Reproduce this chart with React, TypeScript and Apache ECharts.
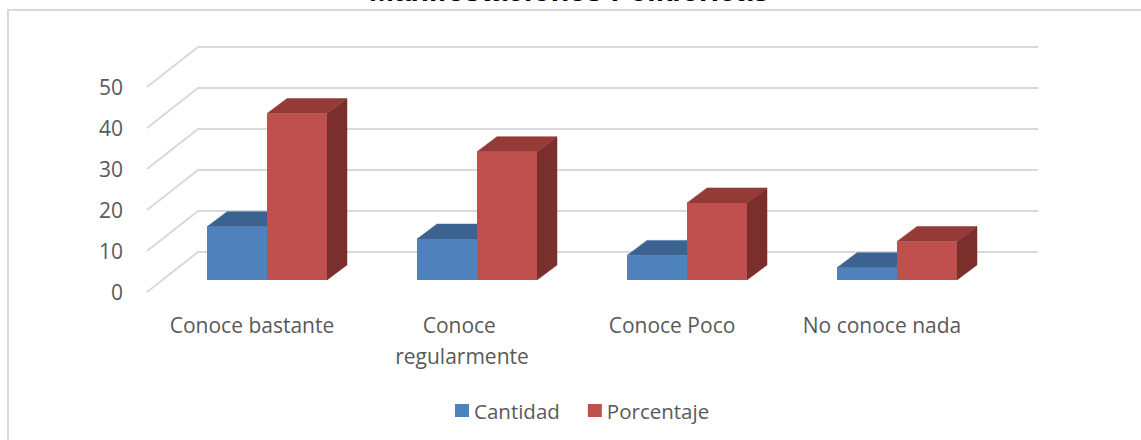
import React, { useEffect, useRef } from "react";
import * as echarts from "echarts";

const titleText = "Manifestaciones Folklóricas";
const categories = ["Conoce bastante", "Conoce regularmente", "Conoce Poco", "No conoce nada"];
const cantidad = [13, 10, 6, 3];
const porcentaje = [40.6, 31.3, 18.8, 9.4];
const yTicks = [0, 10, 20, 30, 40, 50];
const seriesNames = ["Cantidad", "Porcentaje"];

const WALL = { dx: 51, dy: -40 };
const BAR_SHIFT = { dx: 15, dy: -12 };
const BAR_DEPTH = { dx: 20, dy: -15 };
const FONT = "'Open Sans', sans-serif";

const palette = [
  { front: "#4f81bd", top: "#3c6291", side: "#375a86" },
  { front: "#c0504d", top: "#943a37", side: "#7a2f2d" },
];

function barRenderer(s: number) {
  return (params: any, api: any) => {
    const idx = api.value(0);
    const val = api.value(1);
    const base = api.coord([idx, 0]);
    const top = api.coord([idx, val]);
    const band = api.size([1, 0])[0];
    const bw = (band * 2) / 7;
    const center = base[0] + BAR_SHIFT.dx;
    const xL = center + (s - 1) * bw;
    const yB = base[1] + BAR_SHIFT.dy;
    const yT = top[1] + BAR_SHIFT.dy;
    const c = palette[s];
    return {
      type: "group",
      children: [
        {
          type: "polygon",
          shape: {
            points: [
              [xL + bw, yT],
              [xL + bw + BAR_DEPTH.dx, yT + BAR_DEPTH.dy],
              [xL + bw + BAR_DEPTH.dx, yB + BAR_DEPTH.dy],
              [xL + bw, yB],
            ],
          },
          style: { fill: c.side, stroke: c.side, lineWidth: 0.5 },
        },
        {
          type: "polygon",
          shape: {
            points: [
              [xL, yT],
              [xL + bw, yT],
              [xL + bw + BAR_DEPTH.dx, yT + BAR_DEPTH.dy],
              [xL + BAR_DEPTH.dx, yT + BAR_DEPTH.dy],
            ],
          },
          style: { fill: c.top, stroke: c.top, lineWidth: 0.5 },
        },
        {
          type: "rect",
          shape: { x: xL, y: yT, width: bw, height: yB - yT },
          style: { fill: c.front },
        },
      ],
    };
  };
}

export default function App() {
  const ref = useRef<HTMLDivElement>(null);
  useEffect(() => {
    if (!ref.current) return;
    const chart = echarts.init(ref.current, undefined, { renderer: "svg" });
    chart.setOption({
      animation: false,
      backgroundColor: "#ffffff",
      grid: { left: 147, right: 154, top: 87, bottom: 148, containLabel: false },
      xAxis: {
        type: "category",
        data: categories,
        axisLine: { show: false },
        axisTick: { show: false },
        splitLine: { show: false },
        axisLabel: {
          interval: 0,
          margin: 17,
          color: "#595959",
          fontFamily: FONT,
          fontSize: 21,
          lineHeight: 31,
          width: 190,
          overflow: "break",
        },
      },
      yAxis: {
        type: "value",
        min: 0,
        max: 50,
        interval: 10,
        axisLine: { show: false },
        axisTick: { show: false },
        splitLine: { show: false },
        axisLabel: { margin: 24, color: "#595959", fontFamily: FONT, fontSize: 21 },
      },
      legend: {
        data: seriesNames,
        left: 450,
        top: 395,
        icon: "rect",
        itemWidth: 14,
        itemHeight: 13,
        itemGap: 28,
        textStyle: { color: "#595959", fontFamily: FONT, fontSize: 20.5 },
      },
      graphic: [
        {
          type: "rect",
          shape: { x: 8, y: 10, width: 1300, height: 600 },
          style: { fill: "none", stroke: "#d9d9d9", lineWidth: 2 },
          silent: true,
          z: -10,
        },
        {
          type: "text",
          x: 569,
          y: -10,
          style: {
            text: titleText,
            fill: "#000000",
            font: "bold 30px 'Liberation Sans', Arial, sans-serif",
            textAlign: "center",
            textVerticalAlign: "middle",
          },
          z: 10,
        },
      ],
      series: [
        {
          name: "walls",
          type: "custom",
          silent: true,
          z: 1,
          encode: { x: 0, y: 1 },
          data: yTicks.map((v) => [0, v]),
          renderItem: (params: any, api: any) => {
            const y = api.coord([0, api.value(1)])[1];
            const cs = params.coordSys;
            const left = cs.x;
            const right = cs.x + cs.width;
            return {
              type: "polyline",
              shape: {
                points: [
                  [left, y],
                  [left + WALL.dx, y + WALL.dy],
                  [right + WALL.dx, y + WALL.dy],
                ],
              },
              style: { stroke: "#d9d9d9", lineWidth: 2, fill: "none" },
            };
          },
        },
        {
          name: seriesNames[0],
          type: "custom",
          z: 2,
          itemStyle: { color: palette[0].front },
          encode: { x: 0, y: 1 },
          data: cantidad.map((v, i) => [i, v]),
          renderItem: barRenderer(0),
        },
        {
          name: seriesNames[1],
          type: "custom",
          z: 3,
          itemStyle: { color: palette[1].front },
          encode: { x: 0, y: 1 },
          data: porcentaje.map((v, i) => [i, v]),
          renderItem: barRenderer(1),
        },
      ],
    });
    return () => chart.dispose();
  }, []);
  return (
    <div
      ref={ref}
      style={{ position: "fixed", left: 0, top: 0, width: 1141, height: 440 }}
    />
  );
}
